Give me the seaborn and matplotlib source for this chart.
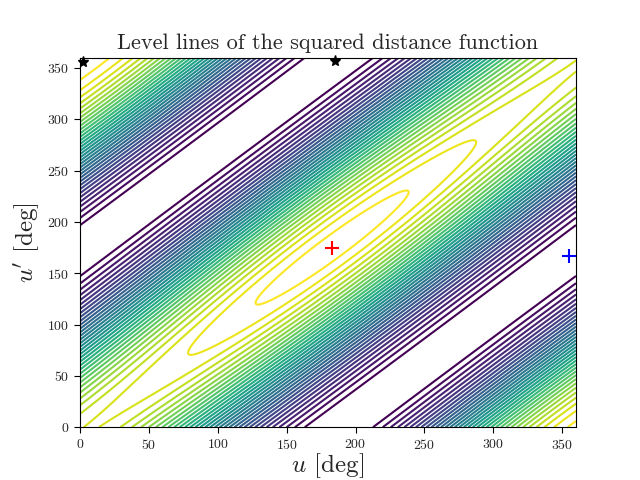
import numpy as np
import matplotlib
matplotlib.use("Agg")
import matplotlib.pyplot as plt
import seaborn as sns

sns.set_style("white")
plt.rcParams["font.family"] = "cmr10"
plt.rcParams["mathtext.fontset"] = "cm"
plt.rcParams["axes.formatter.use_mathtext"] = True
plt.rcParams["axes.unicode_minus"] = False

# model parameters of the squared distance function (degrees)
delta_shift = -8.0       # u' - u offset of the minimum valley
sigma_center = 358.0     # u + u' of the minimum along the valley
along_weight = 0.07      # strength of variation along the valley
first_level = 0.03
level_step = 0.057
top_level = 1.93

# critical points
min_pts = [(183, 175)]
saddle_pts = [(355, 167)]
max_pts = [(2, 356), (185, 357)]

u = np.linspace(0, 360, 721)
up = np.linspace(0, 360, 721)
U, UP = np.meshgrid(u, up)
dl = np.radians(U - UP + delta_shift)
sg = np.radians(U + UP - sigma_center)
d2 = (1 - np.cos(dl)) + along_weight * (1 - np.cos(sg / 2)) * (1 + np.cos(dl)) / 2

levels = np.arange(first_level, top_level, level_step)

fig, ax = plt.subplots(figsize=(6.4, 4.8))
ax.contour(U, UP, d2, levels=levels, cmap="viridis_r", linewidths=1.5)
for x, y in min_pts:
    ax.plot(x, y, "r+", markersize=10, markeredgewidth=1.5)
for x, y in saddle_pts:
    ax.plot(x, y, "b+", markersize=10, markeredgewidth=1.5)
for x, y in max_pts:
    ax.plot(x, y, "k*", markersize=8, clip_on=False)

ax.set_xlim(0, 360)
ax.set_ylim(0, 360)
ax.set_xticks(range(0, 351, 50))
ax.set_yticks(range(0, 351, 50))
ax.set_xlabel(r"$u$ [deg]", fontsize=18, labelpad=0)
ax.set_ylabel(r"$u'$ [deg]", fontsize=18)
ax.set_title("Level lines of the squared distance function", fontsize=16)
for sp in ax.spines.values():
    sp.set_color("black")
ax.tick_params(direction="out", length=4, color="black", left=True, bottom=True)
fig.savefig("out.png", dpi=100)
